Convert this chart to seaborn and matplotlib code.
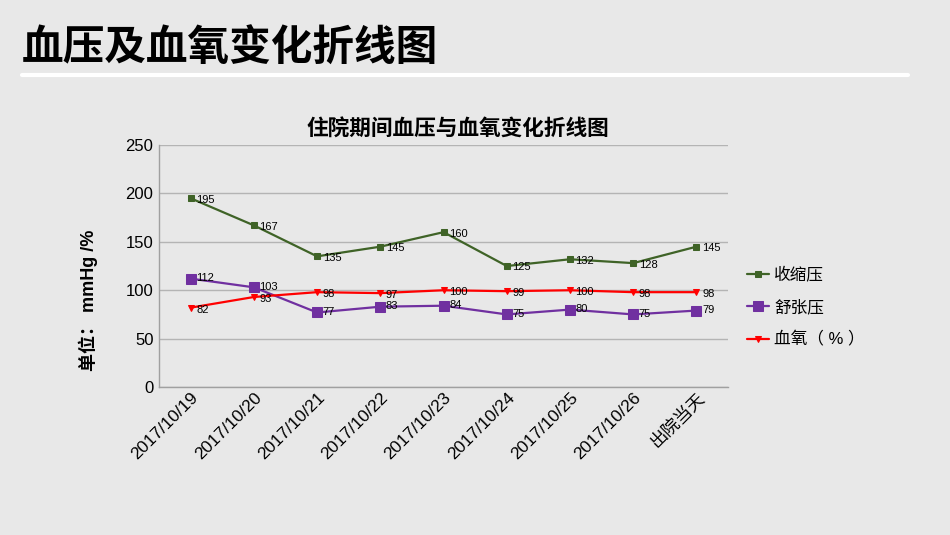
import seaborn as sns
import matplotlib.pyplot as plt
import pandas as pd

# data
dates = ["2017/10/19", "2017/10/20", "2017/10/21", "2017/10/22", "2017/10/23",
         "2017/10/24", "2017/10/25", "2017/10/26", "出院当天"]
systolic = [195, 167, 135, 145, 160, 125, 132, 128, 145]
diastolic = [112, 103, 77, 83, 84, 75, 80, 75, 79]
spo2 = [82, 93, 98, 97, 100, 99, 100, 98, 98]

# name, values, colour, marker, marker size, label y-offset (pt)
series = [
    ("收缩压", systolic, "#3f6327", "s", 5, -1),
    ("舒张压", diastolic, "#7030a0", "s", 7, 0.5),
    ("血氧（ % ）", spo2, "#ff0000", "v", 5, -1.5),
]

bg = "#e8e8e8"
sns.set_theme(style="whitegrid")
plt.rcParams["font.family"] = ["Liberation Sans", "Noto Sans CJK SC", "DejaVu Sans"]
plt.rcParams["text.color"] = "black"
plt.rcParams["axes.labelcolor"] = "black"

fig = plt.figure(figsize=(9.5, 5.35), dpi=100, facecolor=bg)
ax = fig.add_axes([0.1674, 0.2766, 0.599, 0.4523], facecolor=bg)

for name, vals, col, mk, ms, dy in series:
    df = pd.DataFrame({"day": dates, "val": vals})
    sns.lineplot(data=df, x="day", y="val", ax=ax, color=col, marker=mk,
                 markersize=ms, markeredgecolor=col, linewidth=1.6,
                 sort=False, label=name)
    for i, v in enumerate(vals):
        ax.annotate(str(v), (i, v), xytext=(4, dy), textcoords="offset points",
                    fontsize=8, va="center", ha="left", color="black")

ax.set_xlim(-0.5, len(dates) - 0.5)
ax.set_ylim(0, 250)
ax.set_yticks([0, 50, 100, 150, 200, 250])
ax.grid(axis="y", color="#b4b4b4", linewidth=1)
ax.grid(axis="x", visible=False)
for s in ["top", "right"]:
    ax.spines[s].set_visible(False)
for s in ["left", "bottom"]:
    ax.spines[s].set_color("#a0a0a0")
    ax.spines[s].set_linewidth(1)
ax.tick_params(axis="y", labelsize=12, length=0, pad=4, colors="black")
ax.tick_params(axis="x", labelsize=12.5, length=0, pad=2, colors="black")
plt.setp(ax.get_xticklabels(), rotation=45, ha="right", rotation_mode="anchor")
ax.set_xlabel("")
ax.set_ylabel("单位： mmHg /%", fontsize=13, fontweight="bold")
ax.yaxis.set_label_coords(-0.107, 0.36)

ax.legend(loc="center left", bbox_to_anchor=(0.778, 0.426),
          bbox_transform=fig.transFigure, frameon=False, fontsize=12,
          handlelength=1.3, handletextpad=0.3, labelspacing=1.0,
          borderpad=0)

ax.set_title("住院期间血压与血氧变化折线图", fontsize=15.6, fontweight="bold",
             pad=7, color="black", x=0.525)

fig.text(0.023, 0.908, "血压及血氧变化折线图", fontsize=30, fontweight="heavy",
         va="center", ha="left", color="black",
         family=["Noto Sans CJK SC", "DejaVu Sans"])
fig.add_artist(plt.Line2D([0.023, 0.956], [0.86, 0.86], color="white",
                          linewidth=3, transform=fig.transFigure))

fig.savefig("out.png", dpi=100, facecolor=bg)
